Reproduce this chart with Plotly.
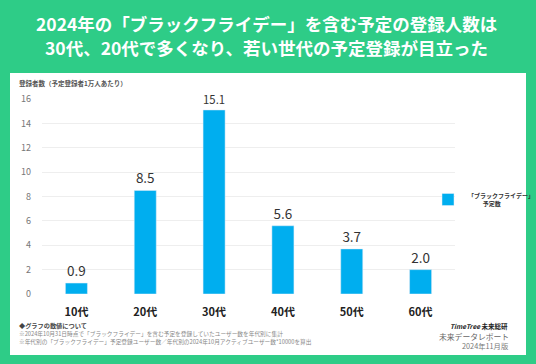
import plotly.graph_objects as go

categories = ["10代", "20代", "30代", "40代", "50代", "60代"]
values = [0.9, 8.5, 15.1, 5.6, 3.7, 2.0]
y_ticks = [0, 2, 4, 6, 8, 10, 12, 14, 16]
series_name = "<b>「ブラックフライデー」</b><br>\u00a0\u00a0\u00a0\u00a0\u00a0\u00a0\u00a0\u00a0\u00a0\u00a0\u00a0<b>予定数</b>"

W, H = 536, 364
FONT = "Noto Sans CJK JP"
GREEN = "#2ECC87"
BLUE = "#00AEEF"

def px(x):
    return x / W

def py(y):
    return 1 - y / H

fig = go.Figure()
fig.add_trace(go.Bar(
    x=categories, y=values, name=series_name,
    marker_color=BLUE,
    texttemplate="%{y:.1f}", textposition="outside",
    textfont=dict(size=13.5, color="#333333", family=FONT),
    cliponaxis=False, showlegend=True,
))

fig.update_layout(
    width=W, height=H,
    margin=dict(l=0, r=0, t=0, b=0, autoexpand=False),
    paper_bgcolor=GREEN, plot_bgcolor="white",
    font=dict(family=FONT),
    bargap=0.68,
    showlegend=True,
    legend=dict(x=px(428), y=py(185), xanchor="left", yanchor="top",
                bgcolor="rgba(0,0,0,0)",
                font=dict(size=6, color="#333333", family=FONT),
                itemwidth=30, tracegroupgap=0),
    xaxis=dict(domain=[px(42), px(455)], showgrid=False, zeroline=False,
               showline=False, tickmode="array", tickvals=categories,
               ticktext=["<b>" + c + "</b>" for c in categories],
               tickfont=dict(size=11, color="#222222", family=FONT),
               ticks="outside", ticklen=8, tickcolor="white"),
    yaxis=dict(domain=[py(294), py(99)], range=[0, 16], tickmode="array",
               tickvals=y_ticks, showgrid=True, gridcolor="#EEEEEE",
               zeroline=False, showline=False,
               tickfont=dict(size=9, color="#777777", family=FONT),
               ticklabelstandoff=10),
)

fig.add_shape(type="rect", xref="paper", yref="paper",
              x0=px(10), x1=px(526), y0=py(355), y1=py(73),
              fillcolor="white", line=dict(width=0), layer="below")

anns = [
    dict(text="<b>2024年の「ブラックフライデー」を含む予定の登録人数は</b>", x=px(266), y=py(24),
         size=17.5, color="white", xanchor="center"),
    dict(text="<b>30代、20代で多くなり、若い世代の予定登録が目立った</b>", x=px(266), y=py(48),
         size=17.5, color="white", xanchor="center"),
    dict(text="<b>登録者数（予定登録者1万人あたり）</b>", x=px(17), y=py(83),
         size=6.5, color="#555555", xanchor="left"),
    dict(text="<b>◆グラフの数値について</b>", x=px(17), y=py(325),
         size=6.2, color="#444444", xanchor="left"),
    dict(text="※2024年10月31日時点で「ブラックフライデー」を含む予定を登録していたユーザー数を年代別に集計",
         x=px(17), y=py(333), size=5.7, color="#888888", xanchor="left"),
    dict(text="※年代別の「ブラックフライデー」予定登録ユーザー数／年代別の2024年10月アクティブユーザー数*10000を算出",
         x=px(17), y=py(341), size=5.7, color="#888888", xanchor="left"),
    dict(text="<b><i>TimeTree</i> 未来総研</b>", x=px(510), y=py(326),
         size=6.5, color="#222222", xanchor="right"),
    dict(text="未来データレポート", x=px(511), y=py(336),
         size=7.8, color="#666666", xanchor="right"),
    dict(text="2024年11月版", x=px(511), y=py(346),
         size=7.3, color="#777777", xanchor="right"),
]
for a in anns:
    fig.add_annotation(text=a["text"], x=a["x"], y=a["y"], xref="paper", yref="paper",
                       xanchor=a["xanchor"], yanchor="middle", showarrow=False,
                       font=dict(size=a["size"], color=a["color"], family=FONT))

fig.write_html("out.html", config={"displayModeBar": False},
               post_script="document.body.style.margin='0';document.body.style.overflow='hidden';")
